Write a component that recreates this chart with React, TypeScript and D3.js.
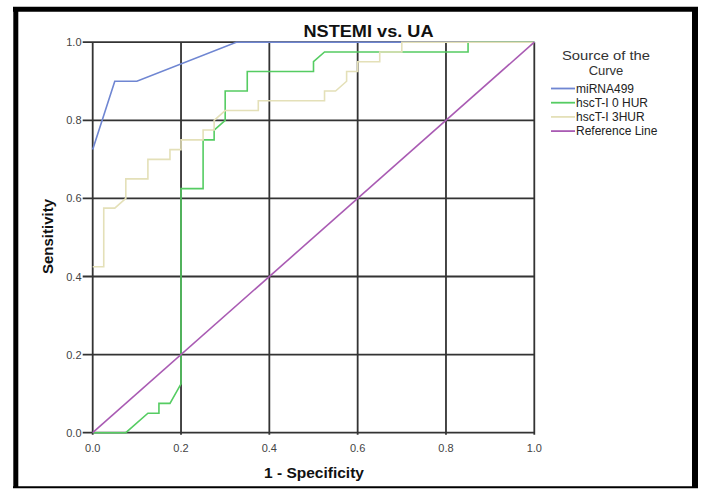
import React from "react";
import * as d3 from "d3";

const W = 701;
const H = 489;

const titleText = "NSTEMI vs. UA";
const xTitle = "1 - Specificity";
const yTitle = "Sensitivity";
const legendTitle = ["Source of the", "Curve"];
const ticks = [0, 0.2, 0.4, 0.6, 0.8, 1.0];

const seriesNames = ["miRNA499", "hscT-I 0 HUR", "hscT-I 3HUR", "Reference Line"];
const seriesColors = ["#6f86d2", "#55cc62", "#e4e0b8", "#a95bb3"];

const miRNA_fpr = [0, 0.05, 0.1, 0.325, 1];
const miRNA_tpr = [0.725, 0.9, 0.9, 1, 1];

const hs0_fpr = [0, 0.075, 0.125, 0.15, 0.15, 0.175, 0.2, 0.2, 0.25, 0.25, 0.275, 0.275, 0.3, 0.3, 0.35, 0.35, 0.5, 0.5, 0.525, 0.85, 0.85, 1];
const hs0_tpr = [0, 0, 0.05, 0.05, 0.075, 0.075, 0.125, 0.625, 0.625, 0.75, 0.75, 0.775, 0.8, 0.875, 0.875, 0.925, 0.925, 0.95, 0.975, 0.975, 1, 1];

const hs3_fpr = [0, 0.025, 0.025, 0.05, 0.075, 0.075, 0.125, 0.125, 0.175, 0.175, 0.2, 0.2, 0.25, 0.25, 0.275, 0.275, 0.3, 0.375, 0.375, 0.525, 0.525, 0.55, 0.575, 0.575, 0.6, 0.6, 0.65, 0.65, 0.7, 0.7, 1];
const hs3_tpr = [0.425, 0.425, 0.575, 0.575, 0.6, 0.65, 0.65, 0.7, 0.7, 0.725, 0.725, 0.75, 0.75, 0.775, 0.775, 0.8, 0.825, 0.825, 0.85, 0.85, 0.875, 0.875, 0.9, 0.925, 0.925, 0.95, 0.95, 0.975, 0.975, 1, 1];

const ref_fpr = [0, 1];
const ref_tpr = [0, 1];

const allSeries = [
  { fpr: miRNA_fpr, tpr: miRNA_tpr },
  { fpr: hs0_fpr, tpr: hs0_tpr },
  { fpr: hs3_fpr, tpr: hs3_tpr },
  { fpr: ref_fpr, tpr: ref_tpr },
];

export default function App() {
  const x = d3.scaleLinear().domain([0, 1]).range([92.7, 534.3]);
  const y = d3.scaleLinear().domain([0, 1]).range([432.7, 42.2]);
  const line = d3
    .line<[number, number]>()
    .x((d) => x(d[0]))
    .y((d) => y(d[1]));

  const font = "Arial, 'Liberation Sans', sans-serif";

  return (
    <svg
      width={W}
      height={H}
      style={{ position: "absolute", left: 0, top: 0, background: "#fff" }}
      fontFamily={font}
    >
      <rect x={0} y={0} width={W} height={H} fill="#fff" />
      {/* outer frame */}
      <line x1={15.8} x2={15.8} y1={7} y2={488} stroke="#000" strokeWidth={5} />
      <line x1={13} x2={698} y1={9.3} y2={9.3} stroke="#000" strokeWidth={5} />
      <line x1={695} x2={695} y1={7} y2={488} stroke="#000" strokeWidth={6} />
      <line x1={13} x2={698} y1={487.2} y2={487.2} stroke="#000" strokeWidth={2} />

      {/* title */}
      <text x={368.5} y={36.5} textAnchor="middle" fontWeight="bold" fontSize={17} fill="#111" textLength={130} lengthAdjust="spacingAndGlyphs">
        {titleText}
      </text>

      {/* grid */}
      {ticks.map((t) => (
        <line key={"gx" + t} x1={x(t)} x2={x(t)} y1={y(1)} y2={y(0) + 2} stroke="#333" strokeWidth={1.8} />
      ))}
      {ticks.map((t) => (
        <line key={"gy" + t} x1={x(0) - 10} x2={x(1)} y1={y(t)} y2={y(t)} stroke="#333" strokeWidth={1.8} />
      ))}

      {/* tick labels */}
      {ticks.map((t) => (
        <text key={"ty" + t} x={81.5} y={y(t) + 4} textAnchor="end" fontSize={11} fill="#444">
          {d3.format(".1f")(t)}
        </text>
      ))}
      {ticks.map((t) => (
        <text key={"tx" + t} x={x(t)} y={452} textAnchor="middle" fontSize={11} fill="#444">
          {d3.format(".1f")(t)}
        </text>
      ))}

      {/* curves */}
      {allSeries.map((s, i) => (
        <path
          key={"s" + i}
          d={line(s.fpr.map((f, k) => [f, s.tpr[k]] as [number, number])) || ""}
          fill="none"
          stroke={seriesColors[i]}
          strokeWidth={1.6}
        />
      ))}

      {/* axis titles */}
      <text x={314} y={478} textAnchor="middle" fontWeight="bold" fontSize={15.5} fill="#111">
        {xTitle}
      </text>
      <text
        transform={`translate(52.5,236.5) rotate(-90)`}
        textAnchor="middle"
        fontWeight="bold"
        fontSize={15}
        fill="#111"
      >
        {yTitle}
      </text>

      {/* legend */}
      {legendTitle.map((t, i) => (
        <text key={"lt" + i} x={606} y={60 + i * 14.6} textAnchor="middle" fontSize={13} fill="#333" textLength={i === 0 ? 88 : undefined} lengthAdjust="spacingAndGlyphs">
          {t}
        </text>
      ))}
      {seriesNames.map((n, i) => (
        <g key={"lg" + i} transform={`translate(0,${88.5 + i * 14.2})`}>
          <line x1={551} x2={575} y1={0} y2={0} stroke={seriesColors[i]} strokeWidth={1.8} />
          <text x={576} y={4.3} fontSize={12} fill="#222">
            {n}
          </text>
        </g>
      ))}
    </svg>
  );
}
